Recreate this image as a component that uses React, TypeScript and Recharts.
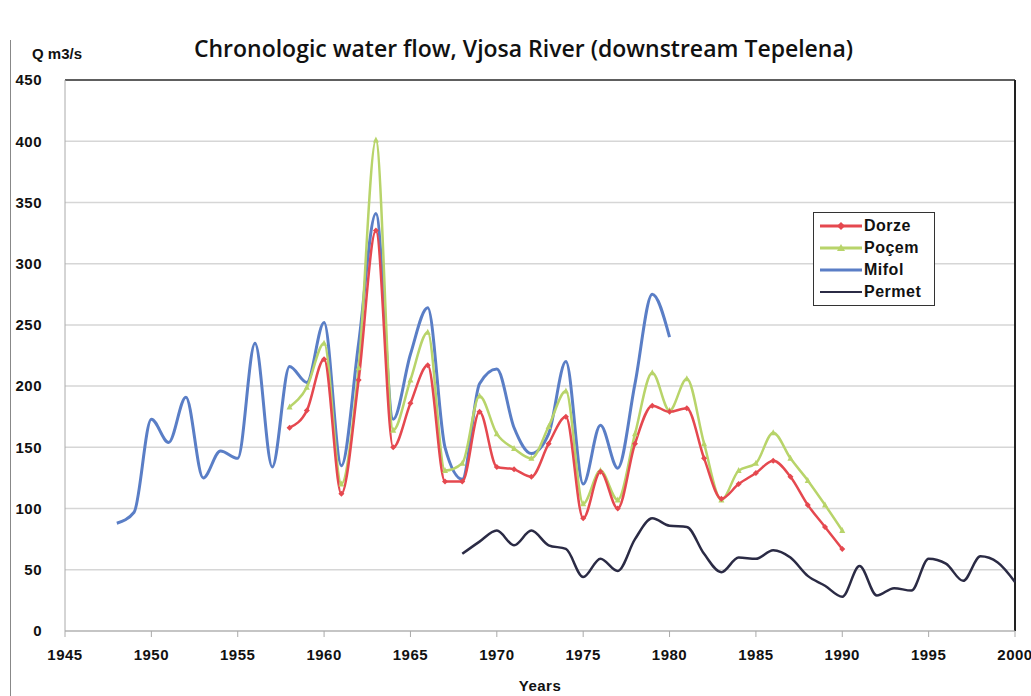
import React from 'react';
import { LineChart, Line, XAxis, YAxis, CartesianGrid, Legend, ReferenceLine } from 'recharts';

// Years covered by each station
const dorzeStart = 1958;
const pocemStart = 1958;
const mifolStart = 1948;
const permetStart = 1968;

// Mean annual flow, m3/s
const dorze = [166, 180, 222, 112, 205, 327, 150, 186, 217, 122, 122, 179, 134, 132, 126, 153, 175, 92, 130, 100, 153, 184, 179, 182, 141, 108, 120, 129, 139, 126, 103, 85, 67];
const pocem = [183, 199, 235, 120, 215, 401, 164, 205, 244, 131, 137, 192, 161, 149, 141, 167, 196, 104, 131, 107, 161, 211, 180, 206, 153, 107, 131, 137, 162, 141, 123, 103, 82];
const mifol = [88, 97, 173, 154, 191, 125, 147, 141, 235, 134, 216, 203, 252, 135, 235, 341, 173, 226, 264, 150, 124, 202, 214, 166, 145, 161, 220, 120, 168, 133, 202, 275, 240];
const permet = [63, 73, 82, 70, 82, 70, 67, 44, 59, 49, 75, 92, 86, 85, 63, 48, 60, 59, 66, 60, 45, 37, 28, 53, 29, 35, 33, 59, 55, 41, 61, 56, 40];

const xTicks = [1945, 1950, 1955, 1960, 1965, 1970, 1975, 1980, 1985, 1990, 1995, 2000];
const yTicks = [0, 50, 100, 150, 200, 250, 300, 350, 400, 450];

const series = [
  { key: 'Dorze', start: dorzeStart, values: dorze, color: '#e5484f', marker: 'diamond' },
  { key: 'Poçem', start: pocemStart, values: pocem, color: '#b8d46a', marker: 'triangle' },
  { key: 'Mifol', start: mifolStart, values: mifol, color: '#5a7ec6', marker: 'none' },
  { key: 'Permet', start: permetStart, values: permet, color: '#2b2b45', marker: 'none' },
];

const data: Record<string, number>[] = [];
for (let y = 1945; y <= 2000; y++) {
  const row: Record<string, number> = { year: y };
  series.forEach(s => {
    const i = y - s.start;
    if (i >= 0 && i < s.values.length) row[s.key] = s.values[i];
  });
  data.push(row);
}

const tickFont = { fontFamily: 'Liberation Sans, Arial, sans-serif', fontWeight: 700, fontSize: 15, fill: '#111', letterSpacing: 0.5 };

const Diamond = (props: any) => {
  const { cx, cy, key } = props;
  if (cx == null || cy == null) return <g key={key} />;
  return <path key={key} d={`M${cx},${cy - 3} L${cx + 3},${cy} L${cx},${cy + 3} L${cx - 3},${cy} Z`} fill="#e5484f" />;
};

const Triangle = (props: any) => {
  const { cx, cy, key } = props;
  if (cx == null || cy == null) return <g key={key} />;
  return <path key={key} d={`M${cx},${cy - 3.5} L${cx + 3},${cy + 2.5} L${cx - 3},${cy + 2.5} Z`} fill="#b8d46a" />;
};

const LegendBox = () => (
  <div style={{ border: '1.5px solid #333', background: '#fff', padding: '2px 8px 2px 6px', width: 106 }}>
    {series.map(s => (
      <div key={s.key} style={{ display: 'flex', alignItems: 'center', height: 22 }}>
        <svg width={42} height={12}>
          <line x1={0} y1={6} x2={42} y2={6} stroke={s.color} strokeWidth={s.key === 'Permet' ? 2 : 3} />
          {s.marker === 'diamond' && <path d="M21,2 L25,6 L21,10 L17,6 Z" fill={s.color} />}
          {s.marker === 'triangle' && <path d="M21,2 L25,9 L17,9 Z" fill={s.color} />}
        </svg>
        <span style={{ fontFamily: 'Liberation Sans, Arial, sans-serif', fontWeight: 700, color: '#111', fontSize: 16, letterSpacing: 0.5, marginLeft: 2 }}>{s.key}</span>
      </div>
    ))}
  </div>
);

export default function App() {
  return (
    <div style={{ position: 'absolute', left: 0, top: 0, width: 1031, height: 696, background: '#fff' }}>
      <div style={{ position: 'absolute', left: 10, top: 40, width: 1, height: 656, background: '#888' }} />
      <div style={{ position: 'absolute', left: 0, top: 32, width: 1031, textAlign: 'center', fontFamily: 'Open Sans, sans-serif', fontWeight: 600, fontSize: 23, color: '#111', paddingLeft: 8 }}>
        Chronologic water flow, Vjosa River (downstream Tepelena)
      </div>
      <div style={{ position: 'absolute', left: 32, top: 45, fontFamily: 'Liberation Sans, Arial, sans-serif', fontWeight: 700, fontSize: 15, color: '#111' }}>
        Q m3/s
      </div>
      <LineChart width={1031} height={696} data={data} margin={{ top: 80, right: 16, bottom: 35, left: 0 }}>
        <CartesianGrid vertical={false} stroke="#d6d6d6" strokeWidth={1.5} />
        <XAxis
          dataKey="year"
          type="number"
          domain={[1945, 2000]}
          ticks={xTicks}
          tick={tickFont}
          tickSize={6}
          tickMargin={12}
          stroke="#aaa"
          label={{ value: 'Years', position: 'insideBottom', offset: -30, style: { ...tickFont } }}
        />
        <YAxis
          domain={[0, 450]}
          ticks={yTicks}
          tick={tickFont}
          tickLine={false}
          tickMargin={17}
          width={65}
          stroke="#aaa"
        />
        <ReferenceLine y={450} stroke="#333" strokeWidth={1.5} />
        <ReferenceLine x={2000} stroke="#222" strokeWidth={2} />
        <Line type="monotone" dataKey="Permet" stroke="#2b2b45" strokeWidth={2.5} dot={false} isAnimationActive={false} />
        <Line type="monotone" dataKey="Mifol" stroke="#5a7ec6" strokeWidth={3} dot={false} isAnimationActive={false} />
        <Line type="monotone" dataKey="Poçem" stroke="#b8d46a" strokeWidth={2.5} dot={Triangle} isAnimationActive={false} />
        <Line type="monotone" dataKey="Dorze" stroke="#e5484f" strokeWidth={2.5} dot={Diamond} isAnimationActive={false} />
        <Legend
          content={LegendBox}
          layout="vertical"
          align="center"
          verticalAlign="middle"
          wrapperStyle={{ position: 'absolute', left: 813, top: 212, width: 'auto' }}
        />
      </LineChart>
    </div>
  );
}
